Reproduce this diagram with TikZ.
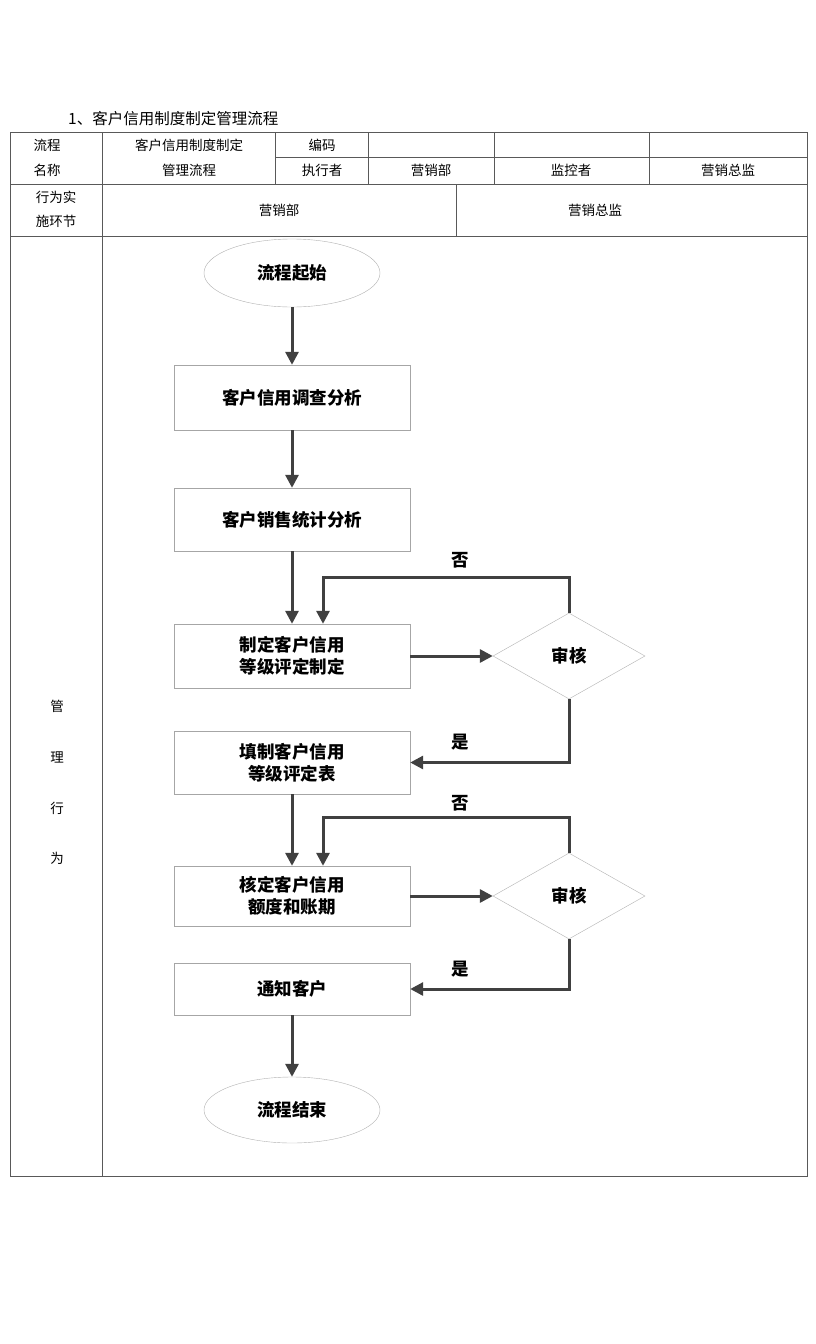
\documentclass[tikz,border=0pt]{standalone}
\usepackage{fontspec}
\setmainfont{Noto Sans CJK SC}
\usetikzlibrary{shapes.geometric,arrows.meta}
\tikzset{
    procbox/.style={draw=gray!70, fill=white, minimum width=236pt, font=\bfseries\fontsize{17.5}{22}\selectfont, align=center, inner sep=0pt},
    decbox/.style={diamond, draw=gray!60, minimum width=152pt, minimum height=86pt, inner sep=0pt, font=\bfseries\fontsize{17.5}{22}\selectfont},
    termbox/.style={ellipse, draw=gray!60, minimum width=176pt, minimum height=68pt, inner sep=0pt, font=\bfseries\fontsize{17.5}{22}\selectfont},
    flowarrow/.style={draw=black!75, line width=3pt, -{Triangle[length=13pt,width=13pt]}},
    cell/.style={font=\fontsize{13.5}{16}\selectfont, inner sep=0pt},
    tag/.style={font=\bfseries\fontsize{17.5}{20}\selectfont, inner sep=0pt},
    rule/.style={black!65, line width=1pt}
}
\begin{document}
\begin{tikzpicture}[x=1pt, y=-1pt]
    \useasboundingbox[fill=white] (0, 0) rectangle (816, 1344);
    % title and table frame
    \node[anchor=west, font=\fontsize{15.5}{18}\selectfont, inner sep=0pt] (title) at (68, 119) {1、客户信用制度制定管理流程};
    \draw[rule] (10, 132) rectangle (807, 1176);
    \draw[rule] (10, 184) -- (807, 184);
    \draw[rule] (10, 236) -- (807, 236);
    \draw[rule] (275, 157) -- (807, 157);
    \draw[rule] (102, 132) -- (102, 1176);
    \foreach \xx in {275, 368, 494, 649}
        \draw[rule] (\xx, 132) -- (\xx, 184);
    \draw[rule] (456, 184) -- (456, 236);
    % table texts
    \node[cell] (t1) at (47, 145) {流程};
    \node[cell] (t2) at (47, 170) {名称};
    \node[cell] (t3) at (189, 145) {客户信用制度制定};
    \node[cell] (t4) at (189, 170) {管理流程};
    \node[cell] (t5) at (322, 145) {编码};
    \node[cell] (t6) at (322, 170) {执行者};
    \node[cell] (t7) at (431, 170) {营销部};
    \node[cell] (t8) at (571, 170) {监控者};
    \node[cell] (t9) at (728, 170) {营销总监};
    \node[cell] (t10) at (56, 197) {行为实};
    \node[cell] (t11) at (56, 221) {施环节};
    \node[cell] (t12) at (279, 210) {营销部};
    \node[cell] (t13) at (595, 210) {营销总监};
    \node[cell] (s1) at (57, 706) {管};
    \node[cell] (s2) at (57, 757) {理};
    \node[cell] (s3) at (57, 808) {行};
    \node[cell] (s4) at (57, 858) {为};
    % flow nodes
    \node[termbox] (start) at (292, 273) {流程起始};
    \node[procbox, minimum height=65pt] (survey) at (292, 397.5) {客户信用调查分析};
    \node[procbox, minimum height=63pt] (sales) at (292, 519.5) {客户销售统计分析};
    \node[procbox, minimum height=64pt] (rank) at (292, 656) {制定客户信用\\等级评定制定};
    \node[decbox] (chk1) at (569, 656) {审核};
    \node[procbox, minimum height=63pt] (sheet) at (292, 762.5) {填制客户信用\\等级评定表};
    \node[procbox, minimum height=60pt] (limit) at (292, 896) {核定客户信用\\额度和账期};
    \node[decbox] (chk2) at (569, 896) {审核};
    \node[procbox, minimum height=52pt] (notify) at (292, 989) {通知客户};
    \node[termbox, minimum height=66pt] (stop) at (292, 1110) {流程结束};
    % connectors
    \draw[flowarrow] (start) -- (survey);
    \draw[flowarrow] (survey) -- (sales);
    \draw[flowarrow] (sales) -- (rank);
    \draw[flowarrow] (rank) -- (chk1);
    \draw[flowarrow] (chk1.north) -- ++(0, -35) -| ([xshift=31pt]rank.north);
    \draw[flowarrow] (chk1.south) |- (sheet.east);
    \draw[flowarrow] (sheet) -- (limit);
    \draw[flowarrow] (limit) -- (chk2);
    \draw[flowarrow] (chk2.north) -- ++(0, -35) -| ([xshift=31pt]limit.north);
    \draw[flowarrow] (chk2.south) |- (notify.east);
    \draw[flowarrow] (notify) -- (stop);
    \node[tag] (no1) at (460, 560) {否};
    \node[tag] (yes1) at (460, 742) {是};
    \node[tag] (no2) at (460, 803) {否};
    \node[tag] (yes2) at (460, 969) {是};
\end{tikzpicture}
\end{document}
